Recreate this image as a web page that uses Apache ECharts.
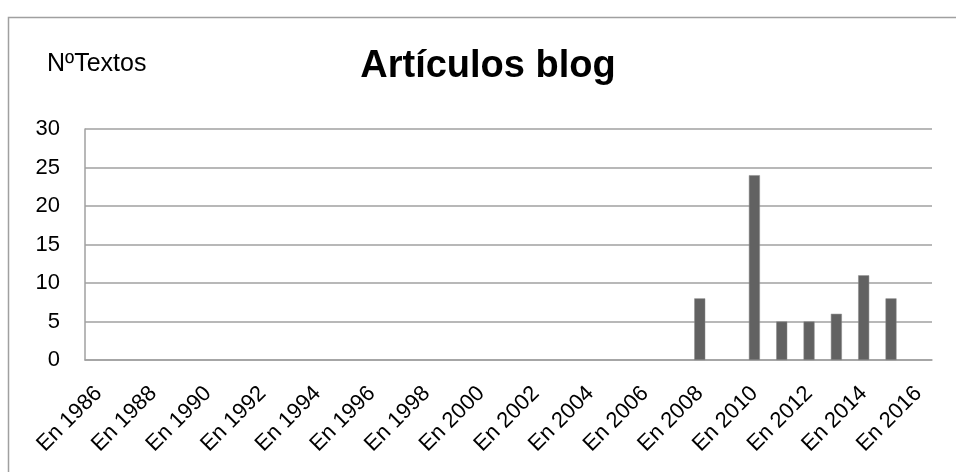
<!DOCTYPE html>
<html>
<head>
<meta charset="utf-8">
<script src="https://cdn.jsdelivr.net/npm/echarts@6/dist/echarts.min.js"></script>
<style>
  html, body { margin: 0; padding: 0; background: #fff; }
  #chart { width: 956px; height: 472px; }
</style>
</head>
<body>
<div id="chart"></div>
<script>
// one category per year, 1986..2016
const years = ['En 1986', 'En 1987', 'En 1988', 'En 1989', 'En 1990', 'En 1991', 'En 1992',
  'En 1993', 'En 1994', 'En 1995', 'En 1996', 'En 1997', 'En 1998', 'En 1999', 'En 2000',
  'En 2001', 'En 2002', 'En 2003', 'En 2004', 'En 2005', 'En 2006', 'En 2007', 'En 2008',
  'En 2009', 'En 2010', 'En 2011', 'En 2012', 'En 2013', 'En 2014', 'En 2015', 'En 2016']
const textos = [null, null, null, null, null, null, null,
  null, null, null, null, null, null, null, null,
  null, null, null, null, null, null, null, 8,
  null, 24, 5, 5, 6, 11, 8, null]

const chartTitle = 'Artículos blog'
const yName = 'NºTextos'

const chart = echarts.init(document.getElementById('chart'))

chart.setOption({
  animation: false,
  textStyle: { fontFamily: 'Liberation Sans' },
  graphic: [
    {
      type: 'rect',
      shape: { x: 8.5, y: 17.5, width: 1000, height: 500 },
      style: { fill: 'none', stroke: '#a0a0a0', lineWidth: 1.5 },
      silent: true
    },
    {
      type: 'text',
      x: 488,
      y: 67,
      style: {
        text: chartTitle,
        font: 'bold 38px "Liberation Sans"',
        fill: '#000',
        textAlign: 'center',
        textVerticalAlign: 'middle'
      }
    },
    {
      type: 'text',
      x: 47,
      y: 64,
      style: {
        text: yName,
        font: '25px "Liberation Sans"',
        fill: '#000',
        textAlign: 'left',
        textVerticalAlign: 'middle'
      }
    }
  ],
  grid: { left: 85, right: 24, top: 129, bottom: 112 },
  xAxis: {
    type: 'category',
    data: years,
    boundaryGap: true,
    axisLine: { lineStyle: { color: '#a0a0a0', width: 1.5 } },
    axisTick: { show: false },
    axisLabel: {
      interval: 1,
      rotate: 45,
      margin: 30,
      color: '#000',
      fontSize: 22,
      fontFamily: 'Liberation Sans'
    }
  },
  yAxis: {
    type: 'value',
    min: 0,
    max: 30,
    interval: 5,
    axisLine: { show: true, lineStyle: { color: '#a0a0a0', width: 1.5 } },
    axisTick: { show: false },
    splitLine: { lineStyle: { color: '#a0a0a0', width: 1.5 } },
    axisLabel: {
      margin: 25,
      color: '#000',
      fontSize: 22,
      fontFamily: 'Liberation Sans'
    }
  },
  series: [
    {
      type: 'bar',
      data: textos,
      barWidth: 11,
      itemStyle: { color: '#626262', borderColor: '#8a8a8a', borderWidth: 0.5 }
    }
  ]
})
</script>
</body>
</html>
